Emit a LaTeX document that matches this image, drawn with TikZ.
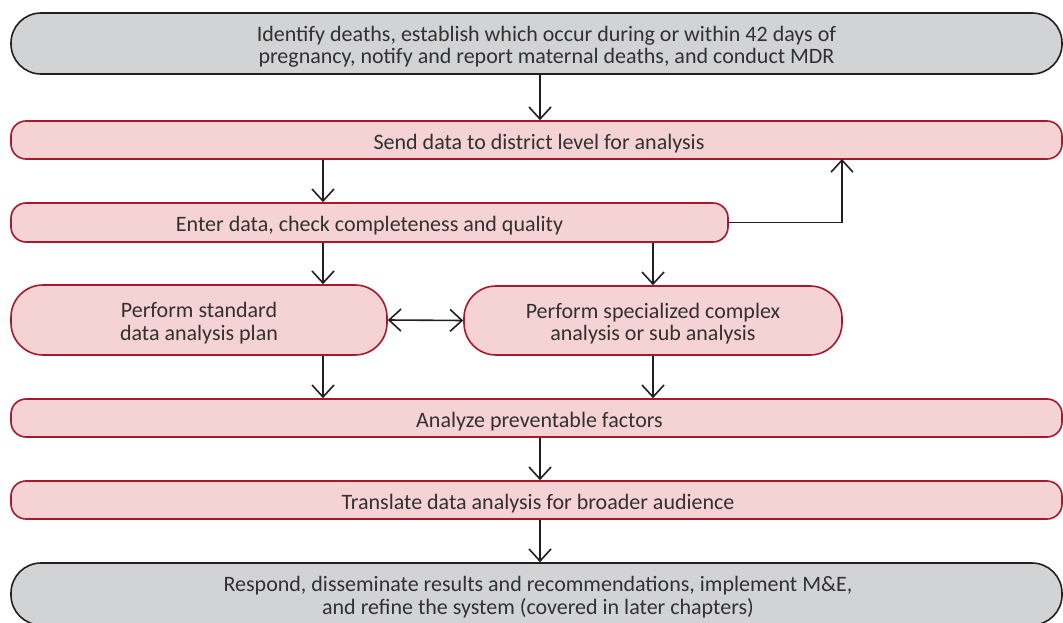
\documentclass[tikz,border=0pt]{standalone}
\usepackage{fontspec}
\setmainfont{Carlito}
\usetikzlibrary{arrows.meta}
\definecolor{grayfill}{HTML}{D1D3D4}
\definecolor{grayline}{HTML}{231F20}
\definecolor{pinkfill}{HTML}{F5D3D4}
\definecolor{redline}{HTML}{A6192E}
\definecolor{txt}{HTML}{333031}
\newcommand\lowerstrut{\rule{0pt}{22pt}}
\begin{document}
\begin{tikzpicture}[x=1pt,y=-1pt,
  box/.style={draw, line width=1.6pt, inner sep=0pt, align=center, text=txt,
    font=\fontsize{22}{22.5}\selectfont},
  graybox/.style={box, draw=grayline, fill=grayfill, rounded corners=30pt},
  pinkbox/.style={box, draw=redline, fill=pinkfill, rounded corners=15pt},
  bigpink/.style={box, draw=redline, fill=pinkfill, rounded corners=32pt},
  arr/.style={line width=1.6pt, draw=grayline,
    -{Straight Barb[length=12pt,width=22pt,line width=1.6pt]}},
  darr/.style={line width=1.6pt, draw=grayline,
    {Straight Barb[length=12pt,width=22pt,line width=1.6pt]}-{Straight Barb[length=12pt,width=22pt,line width=1.6pt]}},
]
\useasboundingbox (0,0) rectangle (1063,623);
\clip (0,0) rectangle (1063,623);
\coordinate (c1) at (323,0);
\coordinate (c2) at (653,0);
\coordinate (c3) at (540,0);

\node[graybox, minimum width=1051pt, minimum height=61pt] (top) at (536.5,43.5)
  {\lowerstrut\hspace*{20pt}Identify deaths, establish which occur during or within 42 days of\\
   \hspace*{20pt}pregnancy, notify and report maternal deaths, and conduct MDR};
\node[pinkbox, minimum width=1051pt, minimum height=38pt] (send) at (536.5,140)
  {\lowerstrut\hspace*{5pt}Send data to district level for analysis};
\node[pinkbox, minimum width=717pt, minimum height=39pt] (enter) at (369.5,222.5)
  {\lowerstrut Enter data, check completeness and quality};
\node[bigpink, minimum width=376pt, minimum height=70pt] (std) at (199,320)
  {\lowerstrut Perform standard\\data analysis plan};
\node[bigpink, minimum width=378pt, minimum height=69pt] (spec) at (653,320.5)
  {\lowerstrut Perform specialized complex\\analysis or sub analysis};
\node[pinkbox, minimum width=1051pt, minimum height=38pt] (analyze) at (536.5,418)
  {\lowerstrut\hspace*{6pt}Analyze preventable factors};
\node[pinkbox, minimum width=1051pt, minimum height=38pt] (transl) at (536.5,500)
  {\lowerstrut\hspace*{3pt}Translate data analysis for broader audience};
\node[graybox, minimum width=1051pt, minimum height=62pt] (bottom) at (536.5,594)
  {\lowerstrut\hspace*{3pt}Respond, disseminate results and recommendations, implement M\&E,\\
   \hspace*{3pt}and refine the system (covered in later chapters)};

\coordinate (elb) at (842,159);
\draw[arr] (top.south -| c3) -- (send.north -| c3);
\draw[arr] (send.south -| c1) -- (enter.north -| c1);
\draw[arr] (enter.south -| c1) -- (std.north -| c1);
\draw[arr] (enter.south -| c2) -- (spec.north -| c2);
\draw[arr] (enter.east) -| (elb);
\draw[darr] (std.east) -- (spec.west);
\draw[arr] (std.south -| c1) -- (analyze.north -| c1);
\draw[arr] (spec.south -| c2) -- (analyze.north -| c2);
\draw[arr] (analyze.south -| c3) -- (transl.north -| c3);
\draw[arr] (transl.south -| c3) -- (bottom.north -| c3);
\end{tikzpicture}
\end{document}
